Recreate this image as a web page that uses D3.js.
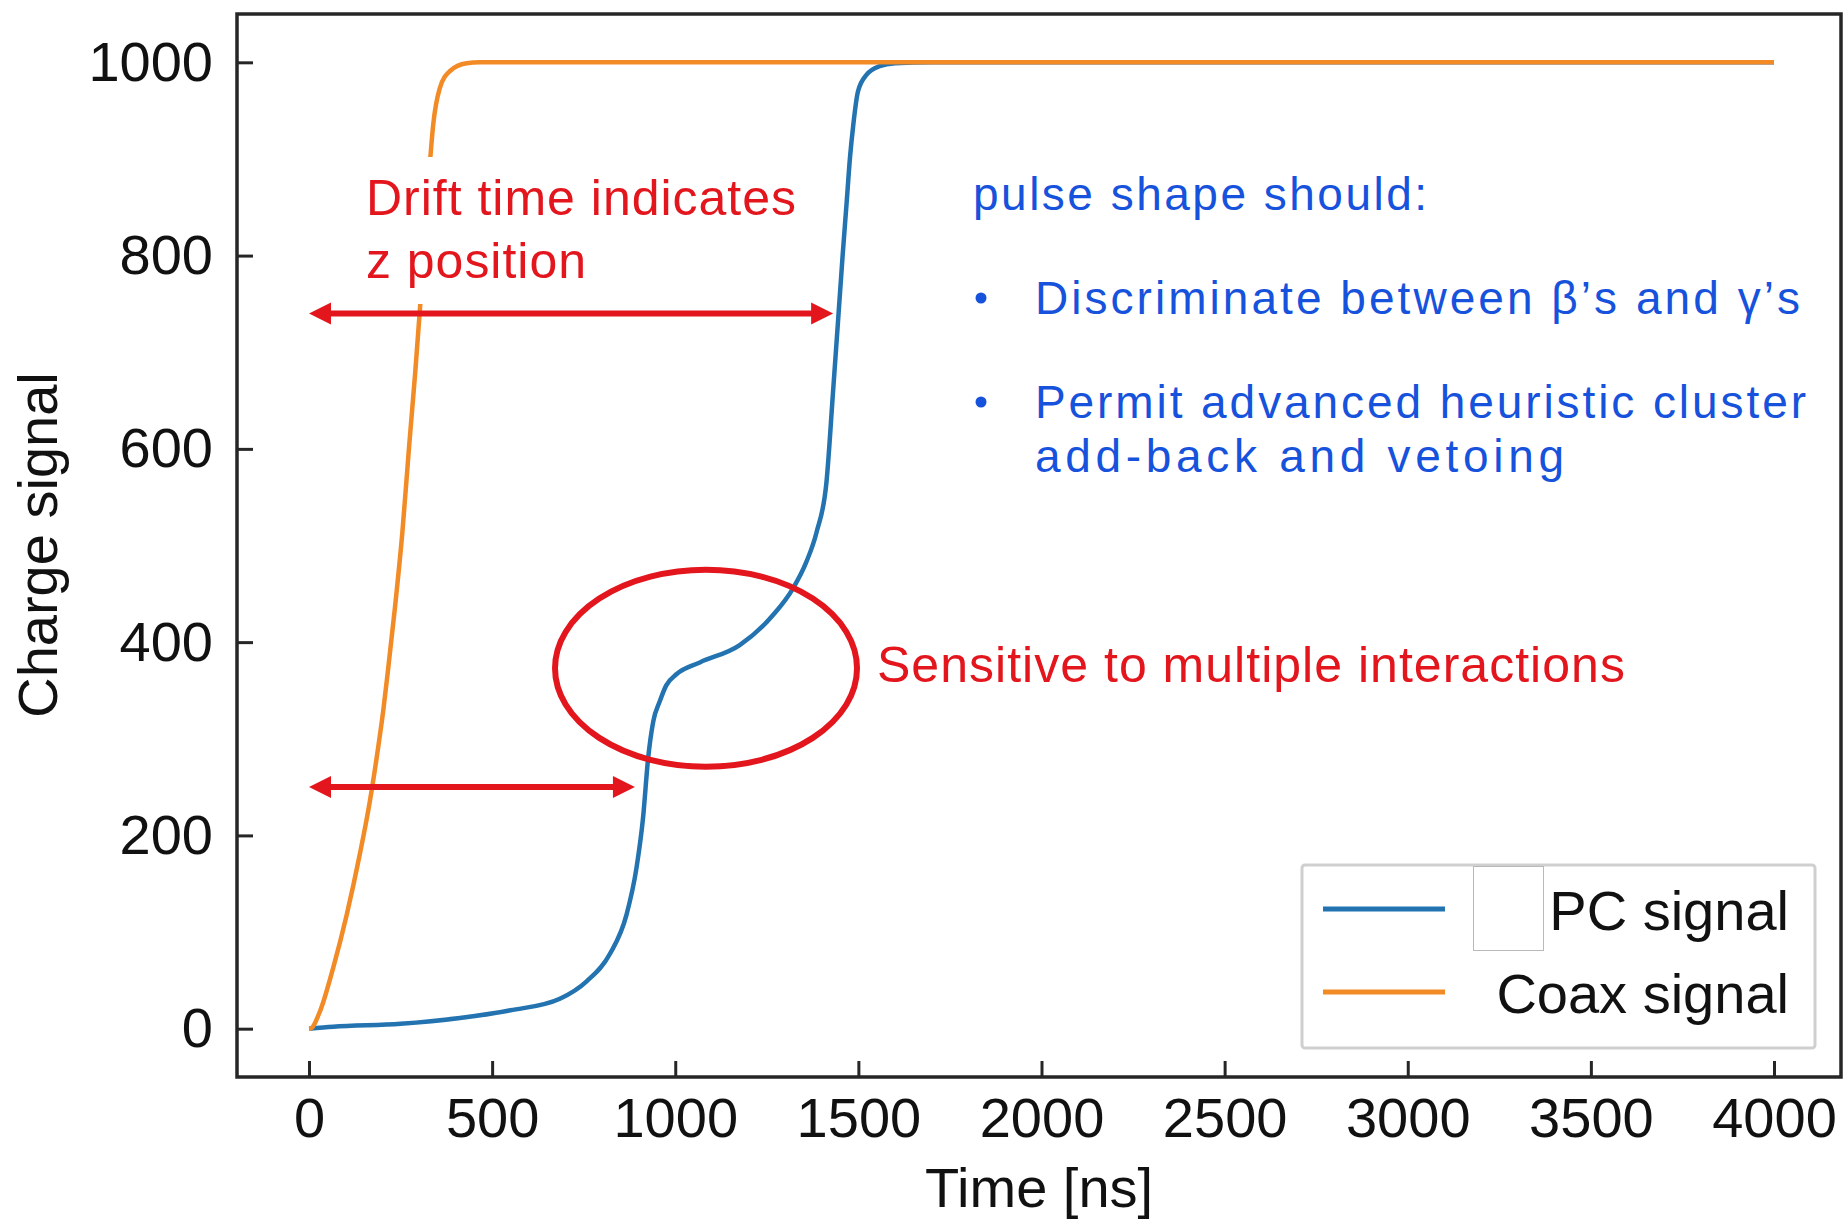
<!DOCTYPE html>
<html>
<head>
<meta charset="utf-8">
<script src="https://cdn.jsdelivr.net/npm/d3@7"></script>
<style>
  html, body { margin: 0; padding: 0; background: #ffffff; }
  svg { display: block; }
</style>
</head>
<body>
<svg id="chart" width="1845" height="1219"></svg>
<script>
// ---------- data ----------
const pcTime  = [0, 66, 250, 412, 550, 685, 758, 821, 867, 894, 912, 926, 940, 958, 975, 1004, 1067, 1176, 1267, 1322, 1358, 1386, 1413, 1431, 1445, 1457, 1468, 1477, 1486, 1499, 1522, 1558, 1600, 1700, 4000];
const pcValue = [0, 2, 5, 11, 19, 31, 49, 77, 118, 166, 218, 280, 318, 339, 355, 367, 379, 397, 428, 456, 483, 514, 566, 660, 735, 800, 855, 901, 935, 970, 987, 996, 999, 1000, 1000];

const coaxTime  = [0, 3, 30, 66, 103, 139, 166, 185, 203, 216, 235, 255, 273, 290, 303, 318, 330, 339, 357, 385, 430, 467, 600, 4000];
const coaxValue = [0, 0, 18, 63, 118, 181, 235, 281, 330, 372, 437, 514, 601, 679, 745, 830, 895, 935, 973, 991, 999, 1000, 1000, 1000];

const xTicks = [0, 500, 1000, 1500, 2000, 2500, 3000, 3500, 4000];
const yTicks = [0, 200, 400, 600, 800, 1000];

const seriesNames = ["PC signal", "Coax signal"];
const xLabel = "Time [ns]";
const yLabel = "Charge signal";

const bulletHeader = "pulse shape should:";
const bullet1 = ["Discriminate between \u03B2\u2019s and \u03B3\u2019s"];
const bullet2 = ["Permit advanced heuristic cluster", "add-back and vetoing"];

// annotation anchors in data units
const driftArrowTop = {t0: 0, t1: 1431, v: 740};
const driftArrowLow = {t0: 0, t1: 890, v: 250};
const circleAnno = {t: 1084, v: 373};

// ---------- layout ----------
const svg = d3.select("#chart");
const frame = {left: 237, top: 14, right: 1841, bottom: 1077};
const x = d3.scaleLinear().domain([0, 4000]).range([309, 1774]);
const y = d3.scaleLinear().domain([-50, 1050]).range([frame.bottom, frame.top]);

const blue = "#2373b1";
const orange = "#f28a26";
const red = "#e3161d";
const slideBlue = "#1652dc";
const axisColor = "#262626";
const font = "'Liberation Sans', Arial, Helvetica, sans-serif";

svg.append("rect").attr("width", 1845).attr("height", 1219).attr("fill", "#fff");

// axes
const xAxis = d3.axisBottom(x).tickValues(xTicks).tickSize(-16).tickPadding(20).tickFormat(d3.format("d"));
const yAxis = d3.axisLeft(y).tickValues(yTicks).tickSize(-16).tickPadding(24).tickFormat(d3.format("d"));

const gx = svg.append("g").attr("transform", `translate(0,${frame.bottom})`).call(xAxis);
const gy = svg.append("g").attr("transform", `translate(${frame.left},0)`).call(yAxis);
[gx, gy].forEach(g => {
  g.select(".domain").remove();
  g.selectAll(".tick line").attr("stroke", axisColor).attr("stroke-width", 3);
  g.selectAll(".tick text").attr("fill", "#111").style("font-family", font).style("font-size", "56px");
});

// frame
svg.append("rect")
  .attr("x", frame.left).attr("y", frame.top)
  .attr("width", frame.right - frame.left).attr("height", frame.bottom - frame.top)
  .attr("fill", "none").attr("stroke", axisColor).attr("stroke-width", 3.5);

// axis labels
svg.append("text").text(xLabel)
  .attr("x", 1039).attr("y", 1207).attr("text-anchor", "middle")
  .style("font-family", font).style("font-size", "56px").attr("fill", "#111");
svg.append("text").text(yLabel)
  .attr("transform", "translate(57,545) rotate(-90)").attr("text-anchor", "middle")
  .style("font-family", font).style("font-size", "56px").attr("fill", "#111");

// curves
const line = d3.line().x(d => x(d[0])).y(d => y(d[1])).curve(d3.curveMonotoneX);
const pcData = pcTime.map((t, i) => [t, pcValue[i]]);
const coaxData = coaxTime.map((t, i) => [t, coaxValue[i]]);

svg.append("path").datum(pcData).attr("d", line)
  .attr("fill", "none").attr("stroke", blue).attr("stroke-width", 4.5).attr("stroke-linejoin", "round");
svg.append("path").datum(coaxData).attr("d", line)
  .attr("fill", "none").attr("stroke", orange).attr("stroke-width", 4.5).attr("stroke-linejoin", "round");

// white text box of the slide annotation (hides part of the orange curve)
svg.append("rect").attr("x", 352).attr("y", 157).attr("width", 462).attr("height", 147).attr("fill", "#fff");

// ellipse
svg.append("ellipse")
  .attr("cx", x(circleAnno.t)).attr("cy", y(circleAnno.v))
  .attr("rx", 151).attr("ry", 98.5)
  .attr("fill", "none").attr("stroke", red).attr("stroke-width", 6);

// double arrows
function doubleArrow(a) {
  const x0 = x(a.t0), x1 = x(a.t1), yy = y(a.v);
  const hl = 22, hw = 11;
  const g = svg.append("g");
  g.append("line").attr("x1", x0 + hl - 2).attr("x2", x1 - hl + 2).attr("y1", yy).attr("y2", yy)
    .attr("stroke", red).attr("stroke-width", 6);
  g.append("path").attr("d", `M${x0},${yy} L${x0 + hl},${yy - hw} L${x0 + hl},${yy + hw} Z`).attr("fill", red);
  g.append("path").attr("d", `M${x1},${yy} L${x1 - hl},${yy - hw} L${x1 - hl},${yy + hw} Z`).attr("fill", red);
}
doubleArrow(driftArrowTop);
doubleArrow(driftArrowLow);

// fit helper: adjust letter spacing so text spans target width
function fit(sel, target) {
  const s = sel.text();
  const w = sel.node().getComputedTextLength();
  const ls = (target - w) / Math.max(1, s.length - 1);
  sel.attr("letter-spacing", ls.toFixed(2));
}

// red annotations
const rt1 = svg.append("text").text("Drift time indicates").attr("x", 366).attr("y", 215)
  .style("font-family", font).style("font-size", "50px").attr("fill", red);
fit(rt1, 430);
const rt2 = svg.append("text").text("z position").attr("x", 366).attr("y", 278)
  .style("font-family", font).style("font-size", "50px").attr("fill", red);
fit(rt2, 220);
const rt3 = svg.append("text").text("Sensitive to multiple interactions").attr("x", 877).attr("y", 682)
  .style("font-family", font).style("font-size", "50px").attr("fill", red);
fit(rt3, 748);

// slide bullet text
const slideFont = "'Liberation Sans', Arial, sans-serif";
const slideSize = "46px";
const bh = svg.append("text").text(bulletHeader).attr("x", 973).attr("y", 210)
  .style("font-family", slideFont).style("font-size", slideSize).attr("fill", slideBlue);
fit(bh, 454);

const blockLines = [
  {s: bullet1[0], y: 314, w: 765},
  {s: bullet2[0], y: 418, w: 771},
  {s: bullet2[1], y: 472, w: 529}
];
blockLines.forEach(l => {
  const t = svg.append("text").text(l.s).attr("x", 1035).attr("y", l.y)
    .style("font-family", slideFont).style("font-size", slideSize).attr("fill", slideBlue);
  fit(t, l.w);
});

[314, 418].forEach(yy => {
  svg.append("circle").attr("cx", 981).attr("cy", yy - 16).attr("r", 5.5).attr("fill", slideBlue);
});

// legend
const leg = svg.append("g");
leg.append("rect").attr("x", 1302).attr("y", 865).attr("width", 513).attr("height", 183).attr("rx", 3)
  .attr("fill", "#fff").attr("stroke", "#cfcfcf").attr("stroke-width", 3);
const legY = [909, 992];
const legBase = [930, 1013];
const legColors = [blue, orange];
seriesNames.forEach((name, i) => {
  leg.append("line").attr("x1", 1323).attr("x2", 1445).attr("y1", legY[i]).attr("y2", legY[i])
    .attr("stroke", legColors[i]).attr("stroke-width", 5);
  leg.append("text").text(name).attr("x", 1789).attr("y", legBase[i]).attr("text-anchor", "end")
    .style("font-family", font).style("font-size", "56px").attr("fill", "#111");
});
leg.append("rect").attr("x", 1473.5).attr("y", 866.5).attr("width", 70).attr("height", 84)
  .attr("fill", "#fff").attr("stroke", "#b9b9b9").attr("stroke-width", 1);
</script>
</body>
</html>
